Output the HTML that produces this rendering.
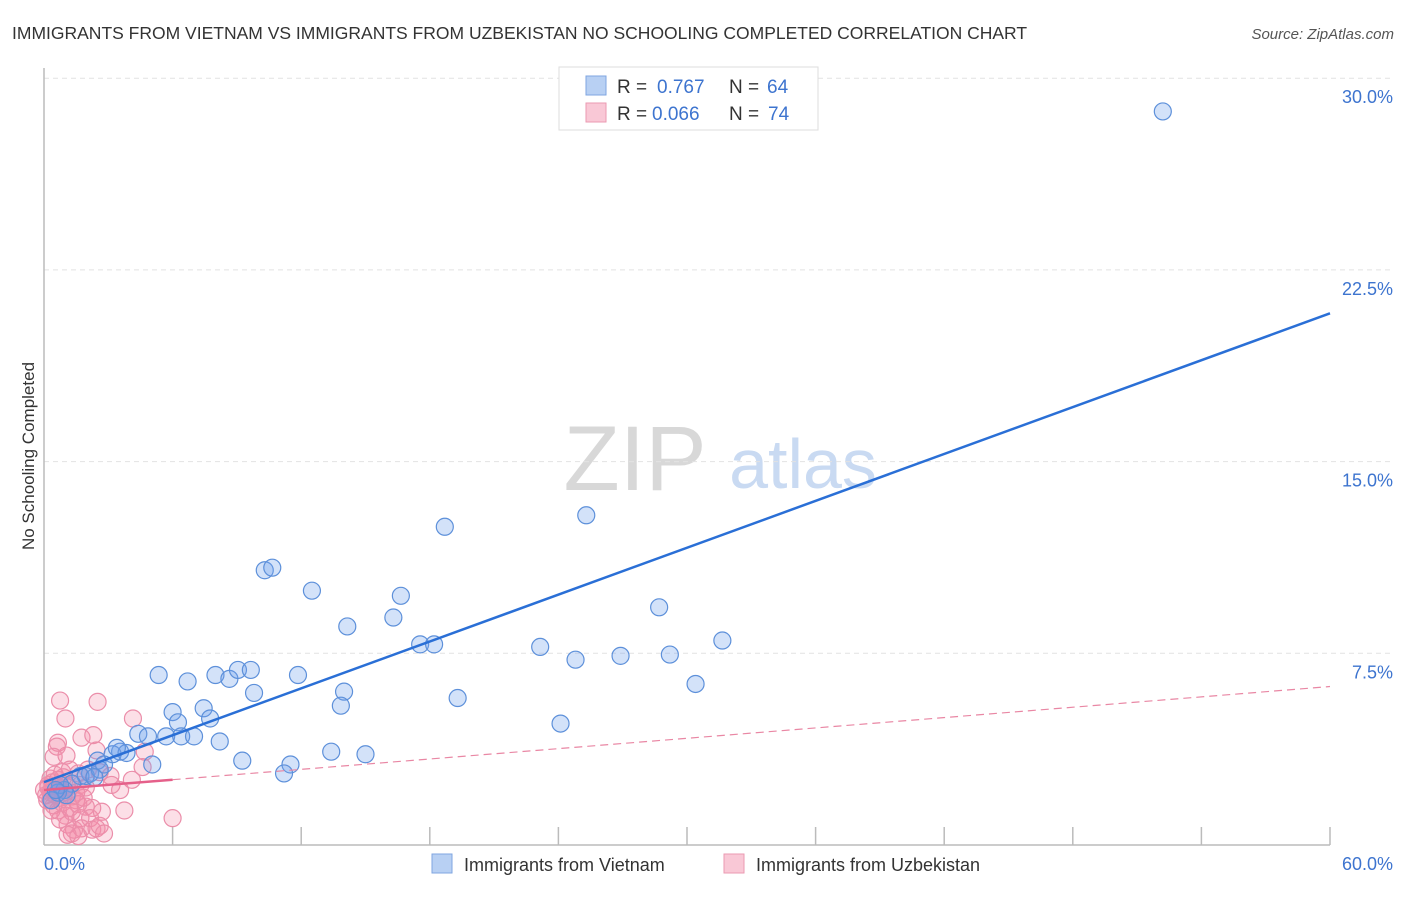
<!DOCTYPE html>
<html><head><meta charset="utf-8"><style>
body{margin:0;background:#fff;font-family:"Liberation Sans",sans-serif;}
svg text{font-family:"Liberation Sans",sans-serif;}
</style></head><body>
<svg id="chart" width="1406" height="892" viewBox="0 0 1406 892" xmlns="http://www.w3.org/2000/svg">
<text x="12" y="39" font-size="17.5" fill="#333">IMMIGRANTS FROM VIETNAM VS IMMIGRANTS FROM UZBEKISTAN NO SCHOOLING COMPLETED CORRELATION CHART</text>
<text x="1394" y="39" font-size="15" fill="#555" text-anchor="end" font-style="italic">Source: ZipAtlas.com</text>
<g>
<text x="635" y="490" font-size="92" fill="#d8d8d8" text-anchor="middle" font-family="Liberation Serif">ZIP</text>
<text x="803" y="488" font-size="70" fill="#c9daf2" text-anchor="middle">atlas</text>
</g>
<g id="grid"></g>
<g id="axes"></g>
<g id="marks"></g>
<text transform="translate(34,456) rotate(-90)" font-size="17" fill="#333" text-anchor="middle">No Schooling Completed</text>
<g>
<rect x="559" y="67" width="259" height="63" fill="#fff" stroke="#ddd"/>
<rect x="586" y="76" width="20" height="19" fill="#b8d0f3" stroke="#7fa6e0"/>
<text x="617" y="93" font-size="19" fill="#333">R = </text><text x="657" y="93" font-size="19" fill="#3d74cf">0.767</text>
<text x="729" y="93" font-size="19" fill="#333">N = </text><text x="767" y="93" font-size="19" fill="#3d74cf">64</text>
<rect x="586" y="103" width="20" height="19" fill="#f9c8d6" stroke="#eb9ab2"/>
<text x="617" y="120" font-size="19" fill="#333">R = </text><text x="652" y="120" font-size="19" fill="#3d74cf">0.066</text>
<text x="729" y="120" font-size="19" fill="#333">N = </text><text x="768" y="120" font-size="19" fill="#3d74cf">74</text>
</g>
<g>
<rect x="432" y="854" width="20" height="19" fill="#b8d0f3" stroke="#7fa6e0"/>
<text x="464" y="871" font-size="18" fill="#333">Immigrants from Vietnam</text>
<rect x="724" y="854" width="20" height="19" fill="#f9c8d6" stroke="#eb9ab2"/>
<text x="756" y="871" font-size="18" fill="#333">Immigrants from Uzbekistan</text>
</g>
</svg>
<script>
const yTicks=[7.5,15,22.5,30];
const yTickLabels=["7.5%","15.0%","22.5%","30.0%"];
const xTickLabels=["0.0%","60.0%"];
const blueX=[52.2,18.7,25.3,10.3,10.65,12.5,16.65,14.15,16.3,17.55,18.2,23.15,24.8,26.9,29.2,28.7,31.65,30.4,19.3,24.1,5.35,6.7,8.0,8.65,9.05,9.65,11.85,9.8,14.0,13.85,6.0,7.45,7.75,6.25,8.2,9.25,11.5,11.2,13.4,15.0,4.4,4.85,5.7,6.4,7.0,5.05,3.55,3.2,3.85,2.5,2.8,2.15,1.7,1.95,1.3,0.95,0.65,0.35,2.6,0.75,1.05,2.35,3.4,0.55];
const blueY=[28.7,12.45,12.9,10.75,10.85,9.95,9.75,8.55,8.9,7.85,7.85,7.75,7.25,7.4,7.45,9.3,8.0,6.3,5.75,4.75,6.65,6.4,6.65,6.5,6.85,6.85,6.65,5.95,6.0,5.45,5.2,5.35,4.95,4.8,4.05,3.3,3.15,2.8,3.65,3.55,4.35,4.25,4.25,4.25,4.25,3.15,3.65,3.55,3.6,3.3,3.15,2.8,2.7,2.7,2.4,2.15,2.05,1.75,2.95,2.35,1.95,2.65,3.8,2.15];
const pinkX=[0.75,2.5,1.0,4.15,0.65,0.6,1.75,2.3,0.45,1.05,4.7,2.45,0.3,0.5,0.85,1.2,1.6,2.05,2.6,3.1,4.1,4.6,0.2,0.35,0.55,0.75,0.95,1.1,1.3,1.5,1.7,0.3,0.45,0.65,0.85,1.2,1.6,1.95,2.25,1.85,0.0,0.1,0.15,0.3,0.4,1.0,1.3,1.7,2.15,2.7,3.75,1.1,1.4,1.75,2.25,2.45,2.6,1.3,1.1,1.6,2.8,6.0,0.75,1.05,0.65,0.2,1.5,1.95,0.35,0.75,3.15,3.55,0.6,0.9];
const pinkY=[5.65,5.6,4.95,4.95,4.0,3.85,4.2,4.3,3.45,3.5,3.65,3.7,2.6,2.75,2.85,2.95,2.8,2.95,2.85,2.7,2.55,3.05,2.35,2.15,1.95,1.85,2.05,2.25,1.9,1.75,2.35,1.75,1.55,1.35,1.65,1.45,1.6,1.5,1.45,1.85,2.15,1.95,1.75,2.05,2.45,1.15,1.3,1.05,1.05,1.3,1.35,0.8,0.6,0.65,0.6,0.65,0.75,0.45,0.4,0.35,0.45,1.05,2.2,2.35,2.55,2.25,2.05,2.25,1.35,1.0,2.35,2.15,2.3,2.65];
const blueTrend=[2.46,20.8];
const pinkTrend=[2.15,6.2];
const pinkSolidEnd=6;
const X0=44,X1=1330,Y0=845,PX_PER_Y=25.56;
const sx=v=>X0+(X1-X0)*v/60;
const sy=v=>Y0-v*PX_PER_Y;
const NS="http://www.w3.org/2000/svg";
function mk(tag,attrs,parent){const e=document.createElementNS(NS,tag);for(const k in attrs)e.setAttribute(k,attrs[k]);parent.appendChild(e);return e;}
const grid=document.getElementById('grid'),axes=document.getElementById('axes'),marks=document.getElementById('marks');
yTicks.forEach((t,i)=>{
 const l=mk('line',{x1:X0,x2:1394,y1:sy(t),y2:sy(t),stroke:'#e2e2e2','stroke-dasharray':'5,4'},grid);
 
 
 const tx=mk('text',{x:1393,y:sy(t)+25,'font-size':18,fill:'#3d74cf','text-anchor':'end'},axes);
 tx.textContent=yTickLabels[i];
 
 
});
const ya=mk('line',{x1:X0,x2:X0,y1:68,y2:Y0,stroke:'#bbb','stroke-width':1.5},axes);


const xa=mk('line',{x1:X0,x2:X1,y1:Y0,y2:Y0,stroke:'#bbb','stroke-width':1.5},axes);


for(let i=1;i<=10;i++){const tk=mk('line',{x1:sx(i*6),x2:sx(i*6),y1:Y0-18,y2:Y0,stroke:'#bbb','stroke-width':1.5},axes);
 
 }
const xl0=mk('text',{x:X0,y:870,'font-size':18,fill:'#3d74cf'},axes);xl0.textContent=xTickLabels[0];


const xl1=mk('text',{x:1393,y:870,'font-size':18,fill:'#3d74cf','text-anchor':'end'},axes);xl1.textContent=xTickLabels[1];


pinkX.forEach((v,i)=>{const c=mk('circle',{cx:sx(v),cy:sy(pinkY[i]),r:8.5,fill:'rgba(244,140,170,0.28)',stroke:'#eb8eaa','stroke-width':1.2},marks);
 
 });
blueX.forEach((v,i)=>{const c=mk('circle',{cx:sx(v),cy:sy(blueY[i]),r:8.5,fill:'rgba(110,160,235,0.3)',stroke:'#5d90da','stroke-width':1.2},marks);
 
 });
const pAt=x=>pinkTrend[0]+(pinkTrend[1]-pinkTrend[0])*x/60;
const pd=mk('line',{x1:sx(pinkSolidEnd),y1:sy(pAt(pinkSolidEnd)),x2:sx(60),y2:sy(pinkTrend[1]),stroke:'#e987a4','stroke-width':1.2,'stroke-dasharray':'8,5'},marks);


const ps=mk('line',{x1:sx(0),y1:sy(pinkTrend[0]),x2:sx(pinkSolidEnd),y2:sy(pAt(pinkSolidEnd)),stroke:'#e5608a','stroke-width':2.5},marks);


const bt=mk('line',{x1:sx(0),y1:sy(blueTrend[0]),x2:sx(60),y2:sy(blueTrend[1]),stroke:'#2a6fd6','stroke-width':2.5},marks);


</script>
</body></html>
